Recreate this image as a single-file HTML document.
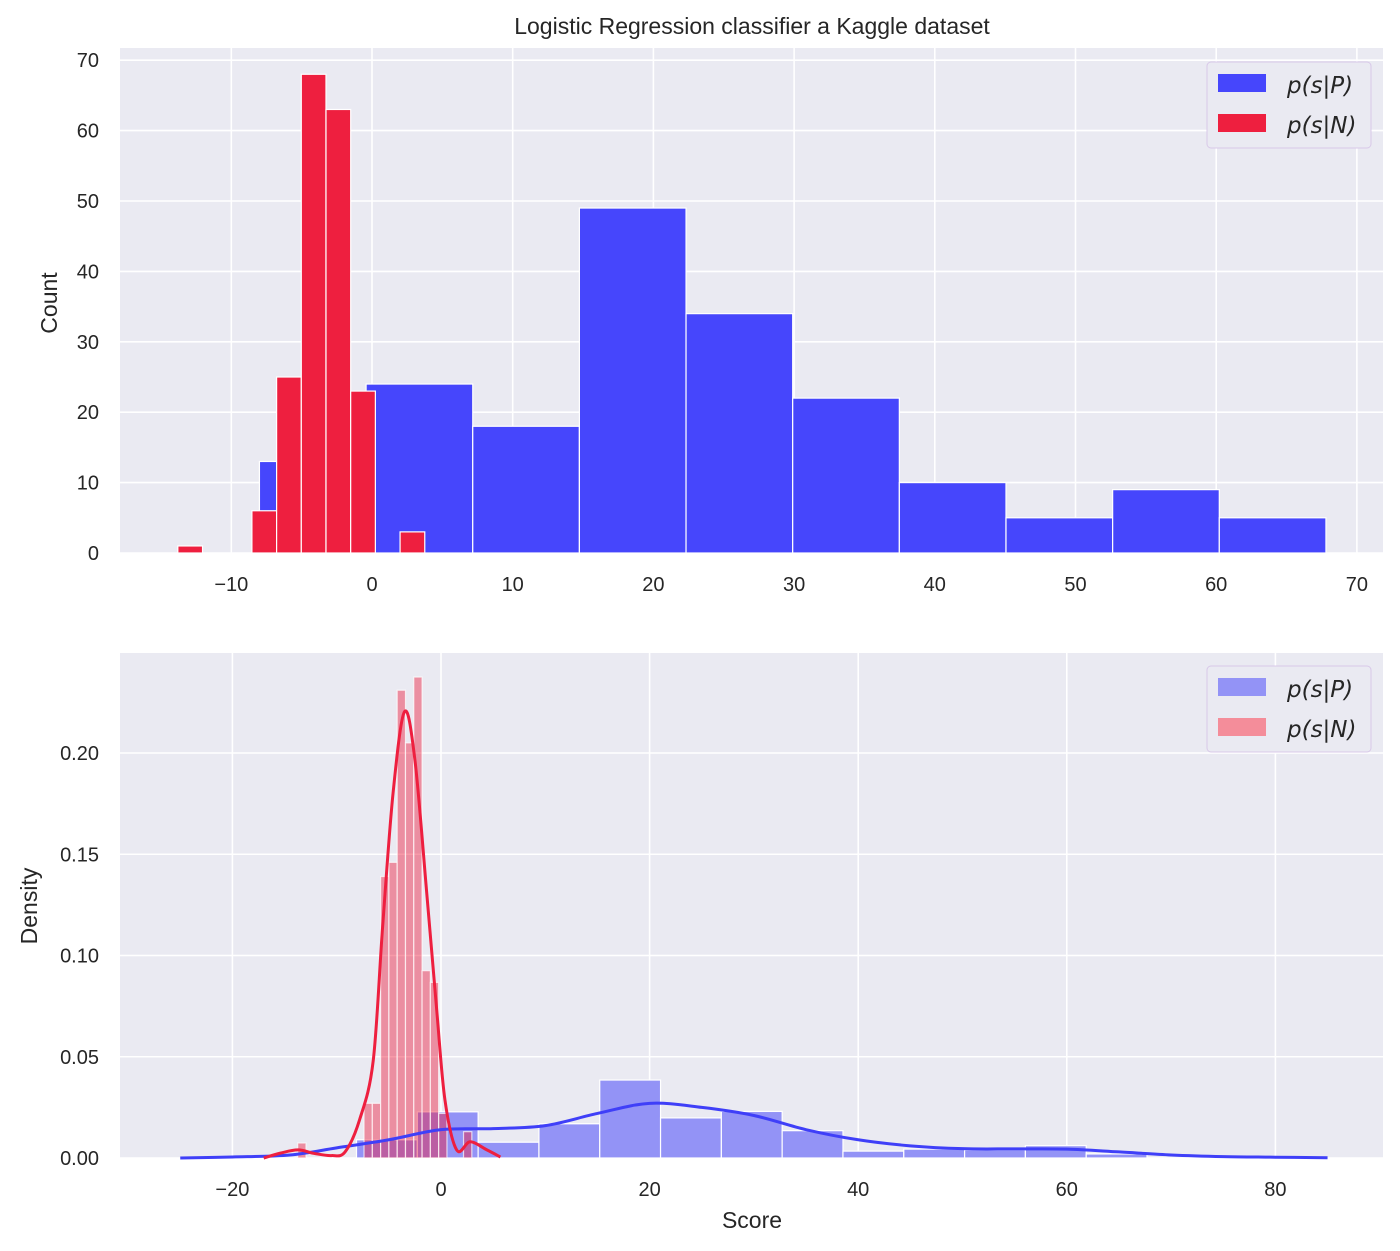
<!DOCTYPE html>
<html><head><meta charset="utf-8"><style>
body{margin:0;background:#fff;}
svg{display:block;font-family:"Liberation Sans",Arial,sans-serif;}
</style></head><body>
<svg id="chart" width="1400" height="1251"></svg>
<script>
// ---- top histogram data (counts) ----
const posEdgesTop0 = -8.0, posWidthTop = 7.58;
const posCountsTop = [13,24,18,49,34,22,10,5,9,5];
const negEdgesTop0 = -13.8, negWidthTop = 1.755;
const negCountsTop = [1,0,0,6,25,68,63,23,0,3];
const topXTicks = [-10,0,10,20,30,40,50,60,70];
const topYTicks = [0,10,20,30,40,50,60,70];
// ---- bottom density data ----
const posStartBot = -8.1, posWidthBot = 5.83;
const posDensBot = [0.009,0.0228,0.0078,0.0169,0.0385,0.0198,0.023,0.0135,0.0034,0.0044,0.004,0.0061,0.002];
const negStartBot = -13.74, negWidthBot = 0.795;
const negDensBot = [0.0074,0,0,0,0,0,0,0,0.027,0.027,0.139,0.146,0.231,0.205,0.2375,0.0925,0.0867,0.022,0,0,0.013,0];
const posKdeX = [-25,-20,-14.5,-10,-5,0,5,10,15,20,25,30,35,40,45,50,55,60,65,70,75,80,85];
const posKdeY = [0,0.0005,0.0015,0.005,0.009,0.014,0.0145,0.016,0.022,0.027,0.025,0.021,0.014,0.009,0.006,0.0046,0.0045,0.0044,0.003,0.0015,0.0007,0.0004,0.0001];
const negKdeX = [-17,-15.4,-13.7,-12.1,-10.5,-9.2,-7.8,-6.5,-5.6,-4.6,-3.5,-2.5,-1.37,-0.41,0.38,1.5,2.8,4.4,5.7];
const negKdeY = [0,0.0024,0.004,0.0022,0.0012,0.003,0.019,0.048,0.114,0.18,0.2204,0.1965,0.131,0.073,0.0286,0.004,0.008,0.004,0.0005];
const botXTicks = [-20,0,20,40,60,80];
const botYTicks = [0,0.05,0.10,0.15,0.20];

const NS='http://www.w3.org/2000/svg';
const svg=document.getElementById('chart');
function mk(tag,attrs,parent,text){const e=document.createElementNS(NS,tag);for(const k in attrs)e.setAttribute(k,attrs[k]);if(text!==undefined)e.textContent=text;(parent||svg).appendChild(e);return e;}

function panel(o){
  const g=mk('g',{});
  
  
  const bg=mk('rect',{x:o.L,y:o.T,width:o.R-o.L,height:o.B-o.T,fill:'#eaeaf2'},g);
  
  
  const sx=v=>o.x0px+(v-o.x0)*o.kx, sy=v=>o.B-(v)*o.ky;
  o.xt.forEach(t=>{const X=sx(t);
    const l=mk('line',{x1:X,x2:X,y1:o.T,y2:o.B,stroke:'#fff','stroke-width':1.6},g);
    
    
    const tx=mk('text',{x:X,y:o.B+38,'text-anchor':'middle','font-size':20,fill:'#262626'},g,String(t).replace('-','\u2212'));
    
    
  });
  o.yt.forEach(t=>{const Y=sy(t);
    const l=mk('line',{x1:o.L,x2:o.R,y1:Y,y2:Y,stroke:'#fff','stroke-width':1.6},g);
    
    
    const tx=mk('text',{x:o.L-21,y:Y+7,'text-anchor':'end','font-size':20,fill:'#262626'},g,o.fmt(t));
    
    
  });
  return {g,sx,sy};
}

function bars(p,start,w,vals,fill,name,stroke){
  vals.forEach((v,i)=>{ if(v<=0) return;
    const x1=p.sx(start+i*w),x2=p.sx(start+(i+1)*w);
    const r=mk('rect',{x:x1,y:p.sy(v),width:x2-x1,height:p.sy(0)-p.sy(v),fill:fill,stroke:stroke,'stroke-width':1.2},p.g);
    
    
  });
}
function curve(p,xs,ys,color,name){
  const pts=xs.map((x,i)=>[p.sx(x),p.sy(ys[i])]);
  let d='M'+pts[0][0]+','+pts[0][1];
  for(let i=0;i<pts.length-1;i++){
    const p0=pts[i-1]||pts[i],p1=pts[i],p2=pts[i+1],p3=pts[i+2]||p2;
    const c1=[p1[0]+(p2[0]-p0[0])/6,Math.min(p.sy(0),p1[1]+(p2[1]-p0[1])/6)],c2=[p2[0]-(p3[0]-p1[0])/6,Math.min(p.sy(0),p2[1]-(p3[1]-p1[1])/6)];
    d+=` C${c1[0]},${c1[1]} ${c2[0]},${c2[1]} ${p2[0]},${p2[1]}`;
  }
  const e=mk('path',{d:d,fill:'none',stroke:color,'stroke-width':3},p.g);
  
  
}
function legend(x,y,c1,c2){
  const g=mk('g',{});
  
  
  mk('rect',{x:x,y:y,width:164,height:86,rx:4,fill:'#eaeaf2',stroke:'#d8c8e8','stroke-width':1},g);
  [[c1,'p(s|P)'],[c2,'p(s|N)']].forEach((e,i)=>{
    const r=mk('rect',{x:x+11,y:y+12+i*40,width:48,height:18,fill:e[0]},g);
    
    
    const t=mk('text',{x:x+80,y:y+31+i*40,'font-size':23,'font-style':'italic','font-family':'"DejaVu Sans",sans-serif',fill:'#262626'},g,e[1]);
    
    
  });
}

// top
const pt=panel({name:'top-histogram',L:120,R:1383,T:48,B:553,x0:0,x0px:372,kx:14.07,ky:7.04,xt:topXTicks,yt:topYTicks,fmt:t=>String(t)});
bars(pt,posEdgesTop0,posWidthTop,posCountsTop,'#4646fc','bar-positive','#fff');
bars(pt,negEdgesTop0,negWidthTop,negCountsTop,'#ee1f3f','bar-negative','#fff');
legend(1207,62,'#4646fc','#ee1f3f');
// bottom
const pb=panel({name:'bottom-density',L:120,R:1383,T:653,B:1158,x0:0,x0px:441,kx:10.43,ky:2025,xt:botXTicks,yt:botYTicks,fmt:t=>t.toFixed(2)});
bars(pb,posStartBot,posWidthBot,posDensBot,'#9393f6','bar-positive-density','#fff');
bars(pb,negStartBot,negWidthBot,negDensBot,'rgba(238,31,63,0.45)','bar-negative-density','rgba(255,255,255,0.7)');
curve(pb,posKdeX,posKdeY,'#3f3ff8','kde-positive');
curve(pb,negKdeX,negKdeY,'#ee1f3f','kde-negative');
legend(1207,666,'#9393f6','#f48d9a');

let t=mk('text',{x:752,y:34,'text-anchor':'middle','font-size':23,fill:'#262626'},svg,'Logistic Regression classifier a Kaggle dataset');

t=mk('text',{x:0,y:0,transform:'translate(57,303) rotate(-90)','text-anchor':'middle','font-size':23,fill:'#262626'},svg,'Count');

t=mk('text',{x:0,y:0,transform:'translate(37,906) rotate(-90)','text-anchor':'middle','font-size':23,fill:'#262626'},svg,'Density');

t=mk('text',{x:752,y:1228,'text-anchor':'middle','font-size':23,fill:'#262626'},svg,'Score');

</script>
</body></html>
